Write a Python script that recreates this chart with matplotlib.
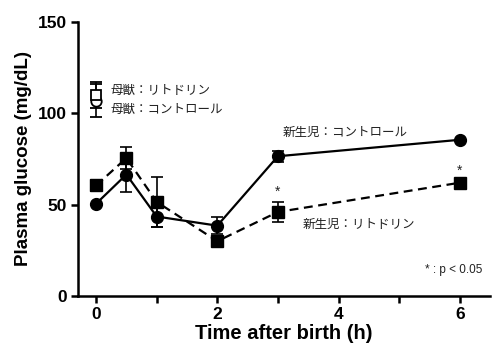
import numpy as np
import matplotlib.pyplot as plt

plt.rcParams['font.family'] = ['Liberation Sans', 'DejaVu Sans']
jp = ['Noto Sans CJK JP', 'DejaVu Sans']

# newborn data
t = [0, 0.5, 1, 2, 3, 6]
ctrl = [50.5, 66.5, 43.5, 38.5, 76.5, 85.5]
ctrl_err = [0, 9.5, 6, 4.5, 3, 0]
rito = [60.5, 75.5, 51.5, 30, 46, 62]
rito_err = [3, 6, 13.5, 2, 5.5, 0]

# maternal data at t=0
mat_rito, mat_rito_err = 110, 7
mat_ctrl, mat_ctrl_err = 107, 9

fig = plt.figure(figsize=(4.93, 3.43), dpi=100)
ax = fig.add_axes([0.158, 0.137, 0.836, 0.799])

ax.errorbar(t, ctrl, yerr=ctrl_err, color='black', lw=1.6, marker='o', ms=8.5,
            capsize=4, elinewidth=1.2, capthick=1.2, zorder=3)
ax.errorbar(t, rito, yerr=rito_err, color='black', lw=1.6, ls=(0, (4, 2.5)), marker='s', ms=8,
            capsize=4, elinewidth=1.2, capthick=1.2, zorder=3)
ax.errorbar([0], [mat_ctrl], yerr=[mat_ctrl_err], color='black', marker='o', ms=7.5,
            mfc='white', mew=1.3, capsize=4, elinewidth=1.2, capthick=1.2, zorder=4)
ax.errorbar([0], [mat_rito], yerr=[mat_rito_err], color='black', marker='s', ms=7.5,
            mfc='white', mew=1.3, capsize=4, elinewidth=1.2, capthick=1.2, zorder=4)

txt = dict(fontsize=9, color='#222222', family=jp, va='center')
ax.text(0.23, 112.4, '母獣：リトドリン', **txt)
ax.text(0.23, 102, '母獣：コントロール', **txt)
ax.text(3.08, 89.3, '新生児：コントロール', **txt)
ax.text(3.41, 39, '新生児：リトドリン', **txt)
ax.text(3, 57, '*', fontsize=10, ha='center', va='center', color='#222222')
ax.text(6, 68.5, '*', fontsize=10, ha='center', va='center', color='#222222')
ax.text(6.38, 14, '* : p < 0.05', fontsize=8.5, color='#222222',
        ha='right', va='center')

ax.set_xlim(-0.3, 6.5)
ax.set_ylim(0, 150)
ax.set_yticks([0, 50, 100, 150])
ax.set_xticks([0, 2, 4, 6])
ax.set_xticks([1, 3, 5], minor=True)
for s in ['top', 'right']:
    ax.spines[s].set_visible(False)
for s in ['left', 'bottom']:
    ax.spines[s].set_linewidth(1.8)
ax.tick_params(which='both', direction='out', length=5, width=1.8, labelsize=12.5, pad=3)
for lab in ax.get_xticklabels() + ax.get_yticklabels():
    lab.set_fontweight('bold')

ax.set_ylabel('Plasma glucose (mg/dL)', fontsize=13.5, fontweight='bold', labelpad=4)
ax.set_xlabel('Time after birth (h)', fontsize=14.5, fontweight='bold', labelpad=1)

fig.savefig('out.png', dpi=100)
